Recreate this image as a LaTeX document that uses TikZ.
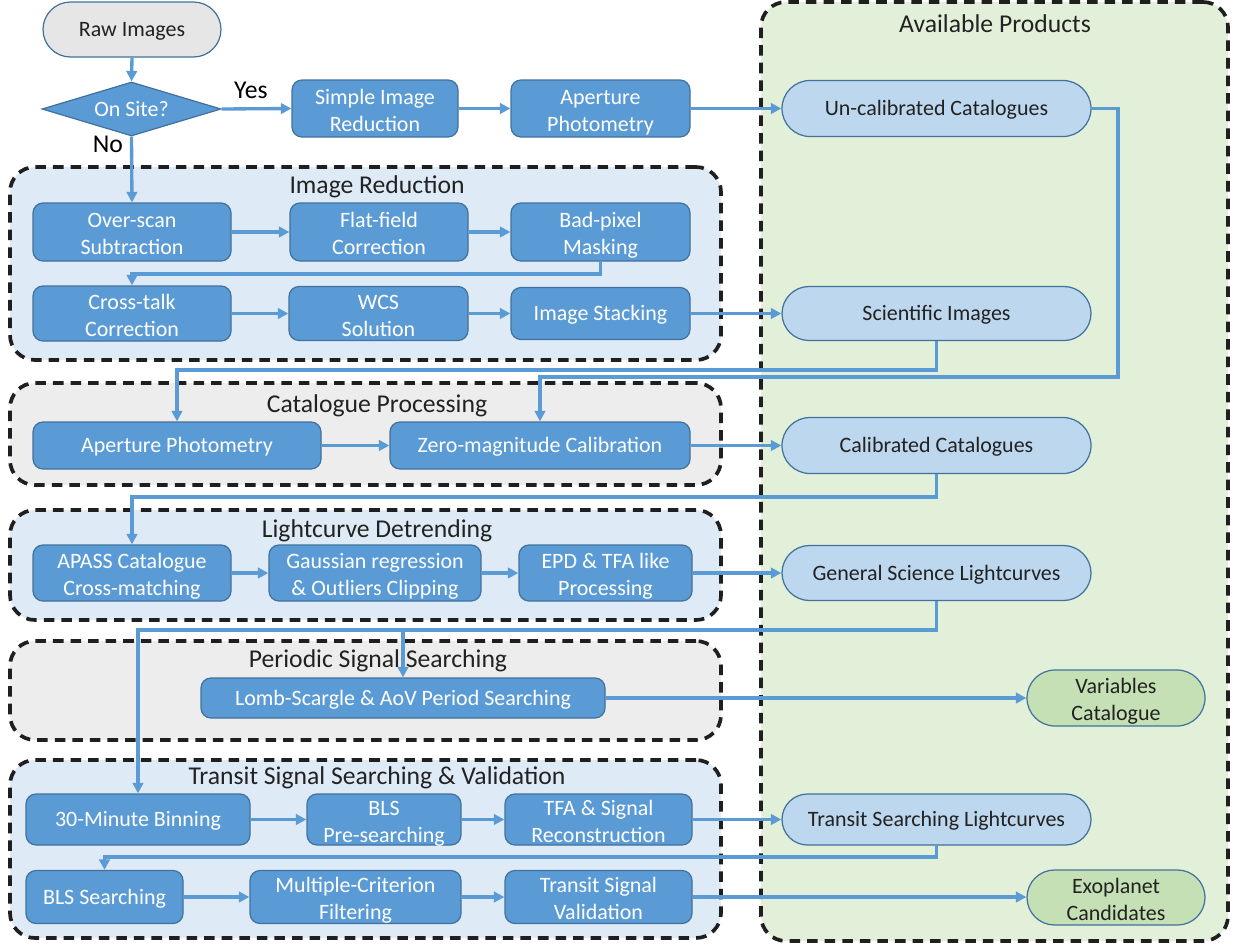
\documentclass[tikz,border=0pt]{standalone}
\usepackage{fontspec}
\setmainfont{Carlito}
\usetikzlibrary{arrows.meta,shapes.geometric,shapes.misc}
\definecolor{nodeblue}{HTML}{5B9BD5}
\definecolor{nodeedge}{HTML}{41719C}
\definecolor{prodblue}{HTML}{BDD7EE}
\definecolor{prodgreen}{HTML}{C5E0B4}
\definecolor{grpblue}{HTML}{DEEBF7}
\definecolor{grpgray}{HTML}{EDEDED}
\definecolor{grpgreen}{HTML}{E2F0D9}
\definecolor{rawgray}{HTML}{E7E6E6}
\definecolor{txtdark}{HTML}{222222}
\newcommand{\myNodeFont}{\fontsize{12.5}{15.3}\selectfont}
\newcommand{\myTitleFont}{\fontsize{14.6}{17}\selectfont}
\newcommand{\twol}[2]{\smash{\raisebox{-1.1pt}{\begin{tabular}{@{}c@{}}#1\\#2\end{tabular}}}}
\tikzset{
  sz/.style 2 args={minimum width=#1*0.02cm, minimum height=#2*0.02cm},
  evenbox/.style={execute at begin node={\rule{0pt}{11pt}}, execute at end node={\rule[-3pt]{0pt}{0pt}}},
  proc/.style={draw=nodeedge, fill=nodeblue, line width=0.7pt, rounded corners=0.2cm,
    text=white, inner sep=0pt, font=\myNodeFont, evenbox},
  prod/.style={rounded rectangle, draw=nodeedge, fill=prodblue, line width=0.7pt,
    text=txtdark, inner sep=0pt, font=\myNodeFont, evenbox},
  final/.style={prod, fill=prodgreen},
  grp/.style={draw=black!88, fill=#1, line width=2.1pt, dash pattern=on 6pt off 4pt,
    rounded corners=0.5cm, inner sep=0pt},
  gtitle/.style={text=txtdark, font=\myTitleFont, inner sep=0pt, text height=12pt, text depth=4pt},
  conn/.style={draw=nodeblue, line width=1.9pt, -{Triangle[length=6pt,width=6pt]}},
  lab/.style={text=black, font=\myTitleFont, inner sep=0pt},
}
\begin{document}
\begin{tikzpicture}[x=0.02cm, y=-0.02cm]
\useasboundingbox (0,0) rectangle (1233,947);

% groups
\node[grp=grpgreen, sz={467}{939}] (gAP) at (994.5,471.5) {};
\node[grp=grpblue, sz={711}{193}] (gIR) at (365.5,263.5) {};
\node[grp=grpgray, sz={711}{102}] (gCP) at (365.5,434) {};
\node[grp=grpblue, sz={711}{110}] (gLD) at (365.5,565) {};
\node[grp=grpgray, sz={711}{99}] (gPS) at (365.5,690.5) {};
\node[grp=grpblue, sz={711}{178}] (gTS) at (365.5,849) {};

\node[gtitle] (tAP) at (995,25) {Available Products};
\node[gtitle] (tIR) at (377,186) {Image Reduction};
\node[gtitle] (tCP) at (377,405) {Catalogue Processing};
\node[gtitle] (tLD) at (377,530) {Lightcurve Detrending};
\node[gtitle] (tPS) at (378,660) {Periodic Signal Searching};
\node[gtitle] (tTS) at (377,777) {Transit Signal Searching \& Validation};

% nodes
\node[prod, fill=rawgray, sz={178}{55}] (raw) at (132,29.5) {Raw Images};
\node[diamond, aspect=3.3, draw=nodeedge, fill=nodeblue, line width=0.7pt, text=white,
  inner sep=0pt, font=\myNodeFont, evenbox, sz={179}{54}] (onsite) at (131.5,109) {On Site?};
\node[proc, sz={166}{57}] (simple) at (375,108.5) {\twol{Simple Image}{Reduction}};
\node[proc, sz={179}{57}] (aptop) at (600.5,108.5) {\twol{Aperture}{Photometry}};
\node[prod, sz={309}{56}] (uncal) at (936.5,108.5) {Un-calibrated Catalogues};

\node[proc, sz={198}{58}] (over) at (132,232) {\twol{Over-scan}{Subtraction}};
\node[proc, sz={178}{58}] (flat) at (379,232) {\twol{Flat-field}{Correction}};
\node[proc, sz={179}{58}] (bad) at (600.5,232) {\twol{Bad-pixel}{Masking}};
\node[proc, sz={198}{55}] (cross) at (132,313.5) {\twol{Cross-talk}{Correction}};
\node[proc, sz={179}{54}] (wcs) at (378.5,313.5) {\twol{WCS}{Solution}};
\node[proc, sz={179}{52}] (stack) at (600.5,313.5) {Image Stacking};
\node[prod, sz={309}{54}] (sci) at (936.5,313.5) {Scientific Images};

\node[proc, sz={288}{47}] (apcat) at (177,445.5) {Aperture Photometry};
\node[proc, sz={300}{47}] (zero) at (540,445.5) {Zero-magnitude Calibration};
\node[prod, sz={309}{56}] (calib) at (936.5,445.5) {Calibrated Catalogues};

\node[proc, sz={198}{56}] (apass) at (132,573) {\twol{APASS Catalogue}{Cross-matching}};
\node[proc, sz={212}{56}] (gauss) at (375,573) {\twol{Gaussian regression}{\& Outliers Clipping}};
\node[proc, sz={173}{56}] (epd) at (605.5,573) {\twol{EPD \& TFA like}{Processing}};
\node[prod, sz={309}{55}] (gen) at (936.5,573) {General Science Lightcurves};

\node[proc, sz={404}{40}] (lomb) at (403,698) {Lomb-Scargle \& AoV Period Searching};
\node[final, sz={178}{56}] (var) at (1116,698) {\twol{Variables}{Catalogue}};

\node[proc, sz={224}{51}] (bin) at (138,819.5) {30-Minute Binning};
\node[proc, sz={154}{51}] (blspre) at (384,819.5) {\twol{BLS}{Pre-searching}};
\node[proc, sz={187}{51}] (tfa) at (598.5,819.5) {\twol{TFA \& Signal}{Reconstruction}};
\node[prod, sz={309}{51}] (tsl) at (936.5,819.5) {Transit Searching Lightcurves};

\node[proc, sz={157}{53}] (blss) at (104.5,897) {BLS Searching};
\node[proc, sz={211}{53}] (multi) at (355.5,897) {\twol{Multiple-Criterion}{Filtering}};
\node[proc, sz={187}{53}] (tsv) at (598.5,897) {\twol{Transit Signal}{Validation}};
\node[final, sz={178}{55}] (exo) at (1116,897.5) {\twol{Exoplanet}{Candidates}};

% routing coordinates
\coordinate (m1) at (0,274);
\coordinate (m2) at (0,370);
\coordinate (m3) at (0,377);
\coordinate (r1) at (1118,0);
\coordinate (m4) at (0,497);
\coordinate (m5) at (0,630);
\coordinate (m6) at (0,857);

% connectors
\draw[conn] (raw.south) -- (onsite.north);
\draw[conn] (onsite.east) -- (simple.west) node[lab, pos=0.42, above=5pt] (yes) {Yes};
\draw[conn] (onsite.south) -- (over.north) node[lab, pos=0.12, left=4pt] (no) {No};
\draw[conn] (simple.east) -- (aptop.west);
\draw[conn] (aptop.east) -- (uncal.west);

\draw[conn] (over.east) -- (over.east -| flat.west);
\draw[conn] (flat.east) -- (flat.east -| bad.west);
\draw[conn] (bad.south) -- (bad.south |- m1) -| (cross.north);
\draw[conn] (cross.east) -- (cross.east -| wcs.west);
\draw[conn] (wcs.east) -- (wcs.east -| stack.west);
\draw[conn] (stack.east) -- (sci.west);

\draw[conn] (sci.south) -- (sci.south |- m2) -| (apcat.north);
\draw[conn] (uncal.east) -| (r1 |- m3) -| (zero.north);
\draw[conn] (apcat.east) -- (zero.west);
\draw[conn] (zero.east) -- (calib.west);

\draw[conn] (calib.south) -- (calib.south |- m4) -| (apass.north);
\draw[conn] (apass.east) -- (gauss.west);
\draw[conn] (gauss.east) -- (epd.west);
\draw[conn] (epd.east) -- (gen.west);

\draw[conn] (gen.south) -- (gen.south |- m5) -| (bin.north);
\draw[conn] (lomb.north |- m5) -- (lomb.north);
\draw[conn] (lomb.east) -- (var.west);

\draw[conn] (bin.east) -- (blspre.west);
\draw[conn] (blspre.east) -- (tfa.west);
\draw[conn] (tfa.east) -- (tsl.west);
\draw[conn] (tsl.south) -- (tsl.south |- m6) -| (blss.north);
\draw[conn] (blss.east) -- (multi.west);
\draw[conn] (multi.east) -- (tsv.west);
\draw[conn] (tsv.east) -- (tsv.east -| exo.west);
\end{tikzpicture}
\end{document}
